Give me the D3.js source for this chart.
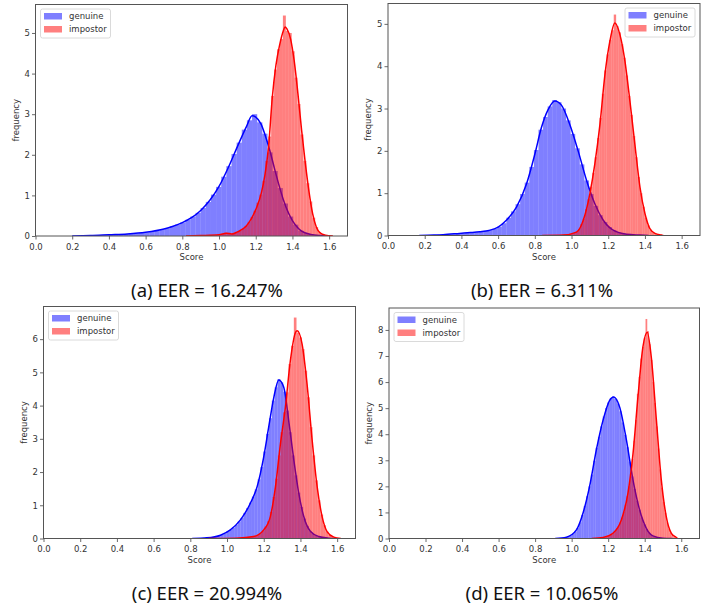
<!DOCTYPE html>
<html lang="en">
<head>
<meta charset="UTF-8">
<title>Score distributions</title>
<script src="https://cdn.jsdelivr.net/npm/d3@7"></script>
<style>
    body { margin: 0; background: #fff; }
    svg text { font-family: "DejaVu Sans", sans-serif; }
    .caption { font-family: "Noto Sans", "Open Sans", sans-serif; }
</style>
</head>
<body>
<script>
    // ---- data ----
    const captions = ["(a) EER = 16.247%", "(b) EER = 6.311%", "(c) EER = 20.994%", "(d) EER = 10.065%"];
    const seriesNames = ["genuine", "impostor"];
    const xTicks = [0.0, 0.2, 0.4, 0.6, 0.8, 1.0, 1.2, 1.4, 1.6];
    const legendSide = ["left", "right", "left", "left"];

    // histogram bins: [first edge, bin width] for genuine / impostor
    const histStarts = [[0.20, 0.82], [0.17, 0.84], [0.81, 0.90], [0.91, 1.11]];
    const histWidths = [[0.028, 0.016], [0.025, 0.013], [0.0155, 0.0145], [0.013, 0.0095]];

    const genuineHistA = [0.00,0.01,0.01,0.01,0.01,0.02,0.02,0.03,0.03,0.04,0.05,0.06,0.07,0.08,0.09,0.11,0.14,0.16,0.19,0.24,
        0.28,0.33,0.40,0.48,0.57,0.69,0.84,1.02,1.21,1.46,1.72,2.02,2.30,2.62,2.85,3.00,2.80,2.52,2.06,1.60,
        1.18,0.80,0.48,0.28,0.13,0.07,0.04,0.02,0.01,0.00];
    const impostorHistA = [0.00,0.00,0.01,0.00,0.01,0.01,0.01,0.02,0.02,0.02,0.03,0.03,0.05,0.08,0.07,0.05,0.07,0.10,0.13,0.18,
        0.25,0.35,0.47,0.62,0.82,1.02,1.36,1.85,2.45,3.45,4.10,4.60,4.85,5.43,5.05,5.00,4.55,3.90,3.25,2.50,
        1.85,1.30,0.85,0.45,0.22,0.10,0.05,0.02,0.01,0.01];
    const genuineHistB = [0.00,0.01,0.01,0.01,0.02,0.02,0.03,0.03,0.04,0.05,0.06,0.07,0.08,0.09,0.11,0.13,0.16,0.21,0.29,0.42,
        0.57,0.74,0.98,1.25,1.62,2.02,2.50,2.80,3.05,3.20,3.15,3.00,2.72,2.40,2.06,1.68,1.30,0.98,0.70,0.48,
        0.32,0.20,0.12,0.07,0.04,0.03,0.02,0.01,0.01,0.00];
    const impostorHistB = [0.00,0.00,0.00,0.01,0.00,0.01,0.01,0.01,0.01,0.02,0.03,0.04,0.05,0.06,0.09,0.15,0.27,0.40,0.62,0.86,
        1.15,1.48,1.85,2.30,2.78,3.35,3.90,4.28,4.62,4.85,5.22,4.95,4.80,4.52,4.20,3.78,3.30,2.85,2.35,1.85,
        1.38,1.00,0.68,0.42,0.24,0.13,0.07,0.04,0.02,0.01];
    const genuineHistC = [0.00,0.00,0.01,0.01,0.01,0.02,0.03,0.04,0.06,0.08,0.11,0.15,0.21,0.26,0.33,0.41,0.51,0.62,0.77,0.92,
        1.08,1.26,1.48,1.78,2.15,2.62,3.15,3.62,4.15,4.55,4.80,4.70,4.42,3.85,3.20,2.50,1.90,1.38,0.95,0.60,
        0.38,0.22,0.14,0.09,0.06,0.04,0.02,0.01,0.01,0.00];
    const impostorHistC = [0.00,0.00,0.00,0.00,0.01,0.01,0.01,0.01,0.01,0.01,0.02,0.02,0.02,0.03,0.03,0.04,0.05,0.08,0.11,0.16,
        0.24,0.36,0.52,0.80,1.25,1.80,2.50,3.20,3.80,4.40,5.25,5.80,6.65,6.20,6.05,5.70,5.05,4.25,3.35,2.50,
        1.75,1.15,0.72,0.40,0.21,0.11,0.05,0.03,0.01,0.01];
    const genuineHistD = [0.00,0.00,0.01,0.02,0.04,0.07,0.11,0.17,0.27,0.40,0.62,0.90,1.25,1.62,2.00,2.45,2.98,3.48,3.90,4.30,
        4.68,5.00,5.22,5.38,5.45,5.35,5.18,4.88,4.45,3.98,3.50,2.95,2.38,1.90,1.45,1.10,0.80,0.55,0.36,0.22,
        0.13,0.08,0.05,0.03,0.02,0.01,0.01,0.00,0.00,0.00];
    const impostorHistD = [0.00,0.01,0.01,0.01,0.02,0.03,0.04,0.05,0.07,0.09,0.12,0.16,0.21,0.28,0.37,0.48,0.62,0.80,1.02,1.30,
        1.62,2.00,2.50,3.05,3.75,4.55,5.55,6.20,6.90,7.35,7.70,8.42,7.95,7.45,6.85,6.00,5.20,4.30,3.45,2.65,
        1.95,1.40,0.98,0.62,0.38,0.22,0.12,0.07,0.04,0.02];

    // density curves: [score, density]
    const genuineKdeA = [[0.20,0.00],[0.30,0.01],[0.40,0.03],[0.50,0.05],[0.60,0.09],[0.70,0.17],[0.75,0.24],[0.80,0.33],
        [0.85,0.45],[0.90,0.63],[0.95,0.88],[1.00,1.22],[1.05,1.68],[1.10,2.20],[1.15,2.70],[1.18,2.96],[1.20,2.93],
        [1.23,2.75],[1.25,2.50],[1.28,2.05],[1.30,1.70],[1.33,1.20],[1.35,0.90],[1.38,0.55],[1.40,0.38],[1.45,0.12],
        [1.50,0.04],[1.55,0.01],[1.60,0.00]];
    const impostorKdeA = [[0.82,0.00],[0.90,0.01],[1.00,0.03],[1.04,0.07],[1.07,0.05],[1.10,0.10],[1.15,0.25],[1.20,0.65],
        [1.23,1.05],[1.25,1.50],[1.27,2.20],[1.29,3.40],[1.31,4.20],[1.33,4.70],[1.35,5.05],[1.36,5.15],[1.37,5.10],
        [1.39,4.85],[1.41,4.30],[1.43,3.50],[1.45,2.60],[1.47,1.80],[1.49,1.10],[1.51,0.55],[1.53,0.22],[1.55,0.08],
        [1.58,0.02],[1.62,0.00]];
    const genuineKdeB = [[0.17,0.00],[0.25,0.01],[0.30,0.02],[0.39,0.05],[0.45,0.07],[0.50,0.09],[0.55,0.12],[0.60,0.20],
        [0.645,0.36],[0.70,0.67],[0.755,1.22],[0.80,1.92],[0.836,2.55],[0.873,2.98],[0.909,3.18],[0.945,3.08],
        [0.99,2.63],[1.036,2.00],[1.082,1.30],[1.127,0.75],[1.173,0.36],[1.227,0.125],[1.30,0.03],[1.373,0.01],[1.42,0.00]];
    const impostorKdeB = [[0.84,0.00],[0.955,0.01],[1.027,0.08],[1.064,0.36],[1.10,0.99],[1.127,1.69],[1.155,2.63],
        [1.182,3.80],[1.209,4.59],[1.236,5.02],[1.264,4.74],[1.291,4.12],[1.318,3.18],[1.345,2.16],[1.373,1.14],
        [1.40,0.52],[1.427,0.16],[1.455,0.05],[1.49,0.01],[1.50,0.00]];
    const genuineKdeC = [[0.81,0.00],[0.89,0.02],[0.964,0.10],[1.018,0.26],[1.073,0.56],[1.127,1.06],[1.164,1.56],
        [1.20,2.46],[1.227,3.35],[1.255,4.25],[1.282,4.77],[1.309,4.55],[1.336,3.55],[1.364,2.36],[1.391,1.36],
        [1.418,0.66],[1.455,0.21],[1.50,0.06],[1.555,0.01],[1.58,0.00]];
    const impostorKdeC = [[0.90,0.00],[1.05,0.01],[1.145,0.06],[1.20,0.26],[1.236,0.66],[1.264,1.56],[1.291,2.85],
        [1.318,3.95],[1.345,5.35],[1.373,6.20],[1.382,6.25],[1.409,5.85],[1.436,4.65],[1.464,2.95],[1.491,1.56],
        [1.518,0.66],[1.545,0.21],[1.582,0.04],[1.62,0.00]];
    const genuineKdeD = [[0.91,0.00],[0.971,0.05],[1.026,0.33],[1.062,0.97],[1.098,1.99],[1.135,3.39],[1.172,4.54],
        [1.208,5.30],[1.23,5.43],[1.263,5.04],[1.30,3.77],[1.336,2.24],[1.372,1.10],[1.409,0.39],[1.445,0.10],
        [1.50,0.01],[1.55,0.00]];
    const impostorKdeD = [[1.11,0.00],[1.172,0.04],[1.226,0.20],[1.272,0.71],[1.308,1.73],[1.336,3.26],[1.363,5.43],
        [1.39,7.34],[1.414,7.91],[1.436,6.96],[1.464,4.54],[1.491,2.24],[1.518,0.84],[1.546,0.20],[1.573,0.04],[1.58,0.00]];

    const genuineHists = [genuineHistA, genuineHistB, genuineHistC, genuineHistD];
    const impostorHists = [impostorHistA, impostorHistB, impostorHistC, impostorHistD];
    const genuineKdes = [genuineKdeA, genuineKdeB, genuineKdeC, genuineKdeD];
    const impostorKdes = [impostorKdeA, impostorKdeB, impostorKdeC, impostorKdeD];

    // ---- layout ----
    const width = 707, height = 607;
    const boxes = [
        { left: 35.5, top: 4.5, right: 347.5, bottom: 236 },
        { left: 388, top: 3.5, right: 700, bottom: 235.5 },
        { left: 43.5, top: 306.5, right: 355.5, bottom: 538.5 },
        { left: 389, top: 308, right: 699.5, bottom: 538.5 }
    ];
    const captionPos = [[207, 297], [542, 297], [207, 600], [542, 600]];
    const fillColors = ["rgba(0,0,255,0.5)", "rgba(255,0,0,0.5)"];
    const lineColors = ["#0000ff", "#ff0000"];

    const svg = d3.select("body").append("svg")
        .attr("width", width)
        .attr("height", height);

    boxes.forEach((b, p) => {
        const w = b.right - b.left;
        const h = b.bottom - b.top;
        const g = svg.append("g").attr("transform", `translate(${b.left},${b.top})`);

        const hists = [genuineHists[p], impostorHists[p]];
        const kdes = [genuineKdes[p], impostorKdes[p]];
        const yMax = d3.max(hists, a => d3.max(a)) * 1.05;

        const x = d3.scaleLinear().domain([0, 1.7]).range([0, w]);
        const y = d3.scaleLinear().domain([0, yMax]).range([h, 0]);

        g.append("clipPath").attr("id", "clip" + p)
            .append("rect").attr("width", w).attr("height", h);
        const plot = g.append("g").attr("clip-path", `url(#clip${p})`);

        const line = d3.line()
            .x(d => x(d[0]))
            .y(d => y(d[1]))
            .curve(d3.curveMonotoneX);

        // seaborn order: hist then kde, per series
        [0, 1].forEach(s => {
            const start = histStarts[p][s];
            const bw = histWidths[p][s];
            plot.append("g").selectAll("rect")
                .data(hists[s])
                .join("rect")
                .attr("x", (d, i) => x(start + i * bw))
                .attr("width", x(bw) - x(0))
                .attr("y", d => y(d))
                .attr("height", d => h - y(d))
                .attr("fill", fillColors[s]);

            plot.append("path")
                .datum(kdes[s])
                .attr("d", line)
                .attr("fill", "none")
                .attr("stroke", lineColors[s])
                .attr("stroke-width", 1.5);
        });

        // axes
        const xAxis = g.append("g")
            .attr("transform", `translate(0,${h})`)
            .call(d3.axisBottom(x).tickValues(xTicks).tickFormat(d3.format(".1f"))
                .tickSize(3.5).tickPadding(4).tickSizeOuter(0));
        const yAxis = g.append("g")
            .call(d3.axisLeft(y).tickValues(d3.range(0, Math.floor(yMax) + 1)).tickFormat(d3.format("d"))
                .tickSize(3.5).tickPadding(2).tickSizeOuter(0));
        [xAxis, yAxis].forEach(a => {
            a.select(".domain").remove();
            a.selectAll("line").attr("stroke", "#444").attr("stroke-width", 0.8);
            a.selectAll("text").attr("fill", "#333").style("font-size", "8.5px");
        });

        // frame
        g.append("rect")
            .attr("width", w).attr("height", h)
            .attr("fill", "none")
            .attr("stroke", "#555")
            .attr("stroke-width", 1);

        // axis titles
        g.append("text")
            .attr("x", w / 2).attr("y", h + 24)
            .attr("text-anchor", "middle")
            .attr("fill", "#333")
            .style("font-size", "8.5px")
            .text("Score");
        g.append("text")
            .attr("transform", `translate(-17,${h / 2}) rotate(-90)`)
            .attr("text-anchor", "middle")
            .attr("fill", "#333")
            .style("font-size", "8.5px")
            .text("frequency");

        // legend
        const lgW = 70, lgH = 29;
        const lgX = legendSide[p] === "left" ? 5 : w - 5 - lgW;
        const lg = g.append("g").attr("transform", `translate(${lgX},4.5)`);
        lg.append("rect")
            .attr("width", lgW).attr("height", lgH)
            .attr("rx", 2)
            .attr("fill", "rgba(255,255,255,0.8)")
            .attr("stroke", "#d0d0d0")
            .attr("stroke-width", 0.8);
        seriesNames.forEach((name, s) => {
            const row = lg.append("g").attr("transform", `translate(3.5,${4 + s * 13})`);
            row.append("rect")
                .attr("width", 18).attr("height", 6.5)
                .attr("fill", fillColors[s]);
            row.append("text")
                .attr("x", 25).attr("y", 6.3)
                .attr("fill", "#333")
                .style("font-size", "8.5px")
                .text(name);
        });

        // caption
        svg.append("text")
            .attr("class", "caption")
            .attr("x", captionPos[p][0]).attr("y", captionPos[p][1])
            .attr("text-anchor", "middle")
            .attr("fill", "#111")
            .style("font-size", "18.5px")
            .text(captions[p]);
    });
</script>
</body>
</html>
